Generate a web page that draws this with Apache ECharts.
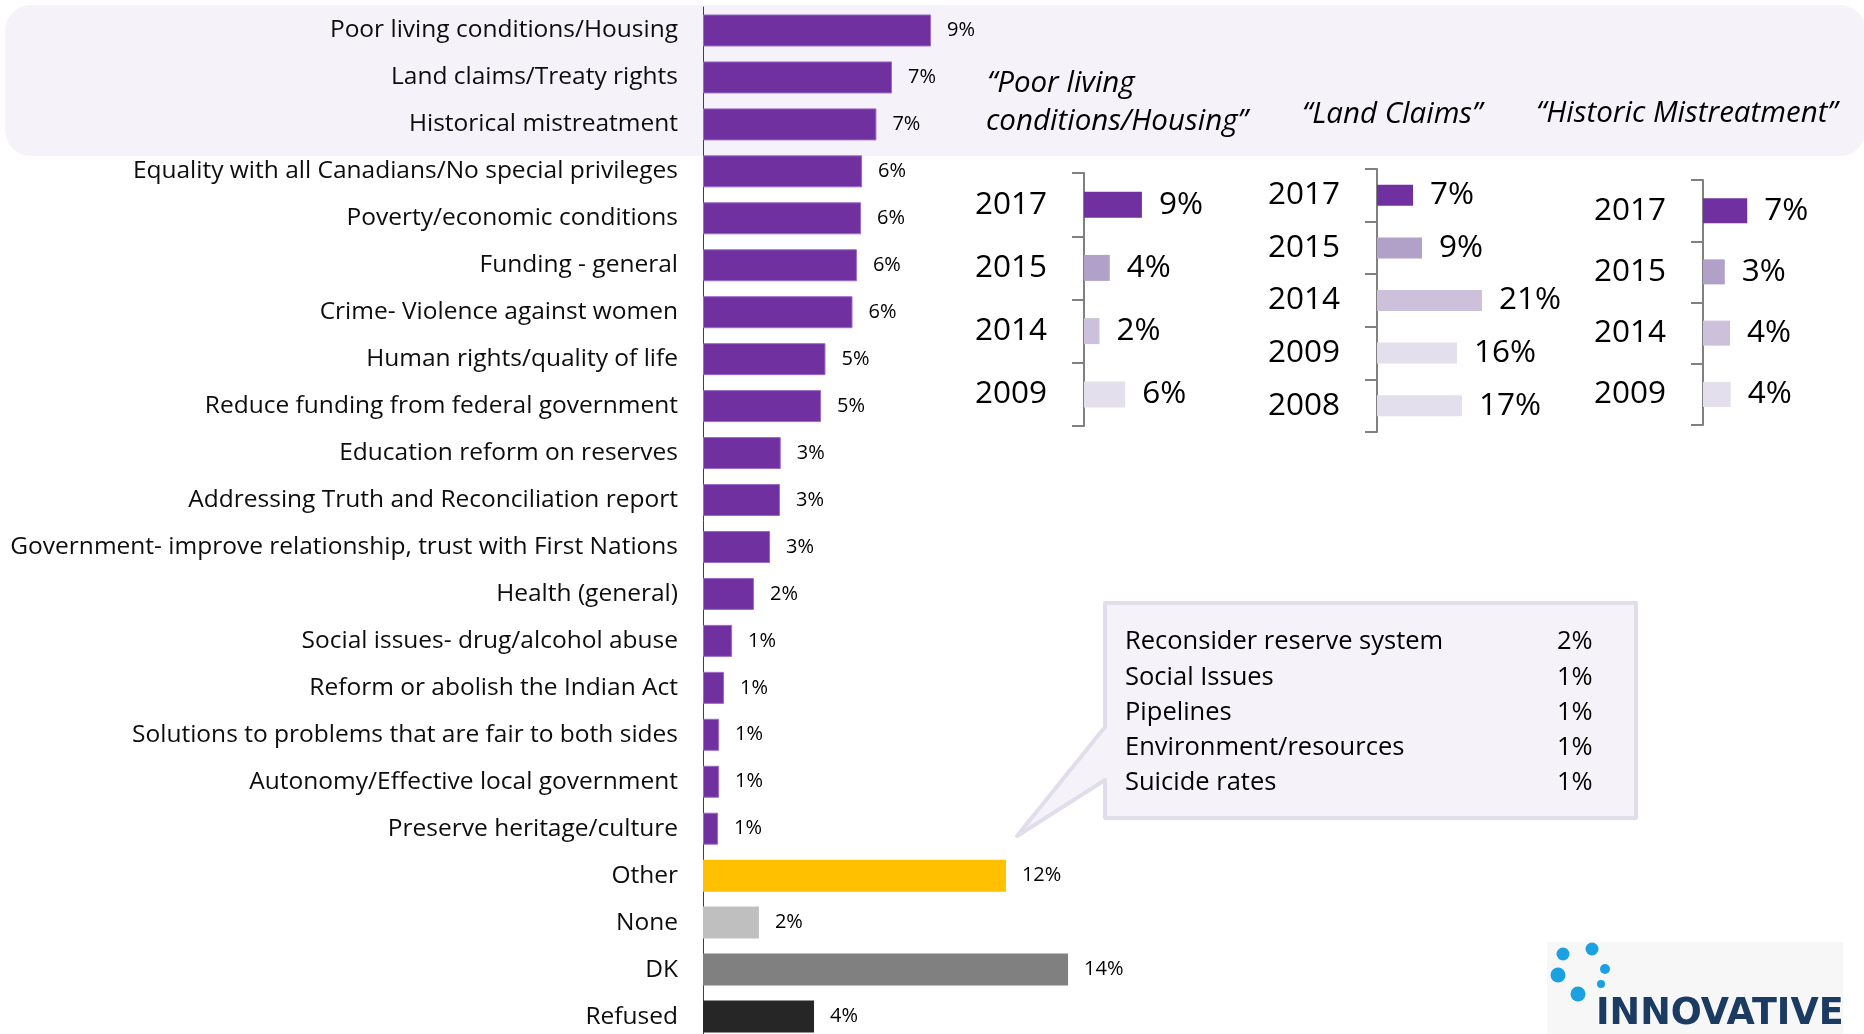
<!DOCTYPE html>
<html>
<head>
<meta charset="utf-8">
<title>Top issues</title>
<script src="https://cdn.jsdelivr.net/npm/echarts@6/dist/echarts.min.js"></script>
<style>
  html, body { margin: 0; padding: 0; background: #ffffff; }
  #chart { width: 1864px; height: 1034px; }
</style>
</head>
<body>
<div id="chart"></div>
<script>
  // main list of mentions
  var issueNames = [
    'Poor living conditions/Housing',
    'Land claims/Treaty rights',
    'Historical mistreatment',
    'Equality with all Canadians/No special privileges',
    'Poverty/economic conditions',
    'Funding - general',
    'Crime- Violence against women',
    'Human rights/quality of life',
    'Reduce funding from federal government',
    'Education reform on reserves',
    'Addressing Truth and Reconciliation report',
    'Government- improve relationship, trust with First Nations',
    'Health (general)',
    'Social issues- drug/alcohol abuse',
    'Reform or abolish the Indian Act',
    'Solutions to problems that are fair to both sides',
    'Autonomy/Effective local government',
    'Preserve heritage/culture',
    'Other',
    'None',
    'DK',
    'Refused'
  ];
  var issueValues = [8.77, 7.27, 6.67, 6.12, 6.08, 5.92, 5.75, 4.71, 4.54, 2.99, 2.96, 2.58,
    1.96, 1.12, 0.81, 0.62, 0.62, 0.58, 11.65, 2.15, 14.04, 4.27];

  // trend panels
  var housingYears = ['2017', '2015', '2014', '2009'];
  var housingValues = [9, 4, 2.4, 6.4];
  var landYears = ['2017', '2015', '2014', '2009', '2008'];
  var landValues = [7.2, 9, 21, 16, 17];
  var historicYears = ['2017', '2015', '2014', '2009'];
  var historicValues = [6.7, 3.3, 4.1, 4.2];

  // "other" breakdown in the callout
  var otherNames = ['Reconsider reserve system', 'Social Issues', 'Pipelines', 'Environment/resources', 'Suicide rates'];
  var otherValues = [2, 1, 1, 1, 1];

  var FONT = 'Open Sans';
  var PURPLE = '#7030A0';
  var specialColors = { 'Other': '#FFC000', 'None': '#BFBFBF', 'DK': '#808080', 'Refused': '#262626' };
  var yearColors = { '2017': '#7030A0', '2015': '#B1A0C7', '2014': '#CCC0DA', '2009': '#E4DFEC', '2008': '#E4DFEC' };

  function pct(p) { return Math.round(p.value) + '%'; }

  function trendData(years, values) {
    return values.map(function (v, i) {
      return { value: v, itemStyle: { color: yearColors[years[i]] } };
    });
  }

  function trendYAxis(idx, years) {
    return {
      type: 'category', gridIndex: idx, inverse: true, data: years,
      axisLine: { lineStyle: { color: '#808080', width: 2 } },
      axisTick: { show: true, length: 12, lineStyle: { color: '#808080', width: 2 } },
      axisLabel: { fontFamily: FONT, fontSize: 31.5, color: '#000', margin: 37 }
    };
  }

  function trendSeries(idx, years, values, bw) {
    return {
      type: 'bar', xAxisIndex: idx, yAxisIndex: idx, barWidth: bw,
      data: trendData(years, values),
      label: { show: true, position: 'right', distance: 17, formatter: pct,
        fontFamily: FONT, fontSize: 31.5, color: '#000' }
    };
  }

  var mainData = issueValues.map(function (v, i) {
    var c = specialColors[issueNames[i]];
    return {
      value: v,
      itemStyle: c ? { color: c } : { color: PURPLE, borderColor: '#9B6BC6', borderWidth: 1 }
    };
  });

  // callout with tail
  var calloutShape = [[1105, 603], [1636, 603], [1636, 818], [1105, 818], [1105, 780], [1017, 836], [1105, 727]];
  var calloutTexts = [];
  otherNames.forEach(function (name, i) {
    var y = 642 + i * 35.3;
    calloutTexts.push({ type: 'text', x: 1125, y: y, z: 5,
      style: { text: name, fontFamily: FONT, fontSize: 25.5, fill: '#000', textVerticalAlign: 'middle' } });
    calloutTexts.push({ type: 'text', x: 1557, y: y, z: 5,
      style: { text: otherValues[i] + '%', fontFamily: FONT, fontSize: 25.5, fill: '#000', textVerticalAlign: 'middle' } });
  });

  var titleStyle = { fontFamily: FONT, fontStyle: 'italic', fontSize: 29.5, fill: '#000', textVerticalAlign: 'middle' };
  function titleText(x, y, s) {
    return { type: 'text', x: x, y: y, z: 5, style: Object.assign({ text: s }, titleStyle) };
  }

  var chartDom = document.getElementById('chart');
  var myChart = echarts.init(chartDom);
  var option;

  option = {
    animation: false,
    backgroundColor: '#ffffff',
    grid: [
      { left: 703, top: 7, width: 1040, height: 1033, outerBoundsMode: 'none', containLabel: false },
      { left: 1084, top: 173, width: 193, height: 253, outerBoundsMode: 'none' },
      { left: 1377, top: 169, width: 200, height: 263, outerBoundsMode: 'none' },
      { left: 1703, top: 180, width: 132, height: 245, outerBoundsMode: 'none' }
    ],
    xAxis: [
      { type: 'value', gridIndex: 0, min: 0, max: 40, show: false },
      { type: 'value', gridIndex: 1, min: 0, max: 30, show: false },
      { type: 'value', gridIndex: 2, min: 0, max: 40, show: false },
      { type: 'value', gridIndex: 3, min: 0, max: 20, show: false }
    ],
    yAxis: [
      {
        type: 'category', gridIndex: 0, inverse: true, data: issueNames,
        axisLine: { lineStyle: { color: '#404040', width: 1 } },
        axisTick: { show: false },
        axisLabel: { fontFamily: FONT, fontSize: 24.5, color: '#0D0D0D', margin: 25, padding: [3, 0, 0, 0] }
      },
      trendYAxis(1, housingYears),
      trendYAxis(2, landYears),
      trendYAxis(3, historicYears)
    ],
    graphic: [
      { type: 'rect', z: -10, shape: { x: 5, y: 5, width: 1861, height: 151, r: 26 },
        style: { fill: '#F5F3F9' } },
      { type: 'polygon', z: -5, shape: { points: calloutShape },
        style: { fill: '#F5F3F9', stroke: '#E2DDEB', lineWidth: 4, lineJoin: 'round' } },
      titleText(987, 84, '\u201CPoor living'),
      titleText(986, 122, 'conditions/Housing\u201D'),
      titleText(1302, 115, '\u201CLand Claims\u201D'),
      titleText(1536, 114, '\u201CHistoric Mistreatment\u201D'),
      // logo
      { type: 'rect', z: -10, shape: { x: 1547, y: 942, width: 296, height: 92 }, style: { fill: '#F7F7F7' } },
      { type: 'circle', shape: { cx: 1563, cy: 954, r: 6.5 }, style: { fill: '#1BA1E2' } },
      { type: 'circle', shape: { cx: 1592, cy: 949, r: 6.5 }, style: { fill: '#1BA1E2' } },
      { type: 'circle', shape: { cx: 1558, cy: 975, r: 7.5 }, style: { fill: '#1BA1E2' } },
      { type: 'circle', shape: { cx: 1605, cy: 969, r: 5 }, style: { fill: '#1BA1E2' } },
      { type: 'circle', shape: { cx: 1601, cy: 984, r: 4 }, style: { fill: '#1BA1E2' } },
      { type: 'circle', shape: { cx: 1578, cy: 994, r: 7.5 }, style: { fill: '#1BA1E2' } },
      { type: 'text', x: 1596, y: 1015, z: 5,
        style: { text: 'INNOVATIVE', fontFamily: 'DejaVu Sans', fontWeight: 'bold', fontSize: 36.5,
          fill: '#1B3B63', textVerticalAlign: 'middle' } }
    ].concat(calloutTexts),
    series: [
      {
        type: 'bar', xAxisIndex: 0, yAxisIndex: 0, barWidth: 32,
        data: mainData,
        label: { show: true, position: 'right', distance: 16, formatter: pct,
          fontFamily: FONT, fontSize: 20, color: '#000' }
      },
      trendSeries(1, housingYears, housingValues, 26),
      trendSeries(2, landYears, landValues, 21),
      trendSeries(3, historicYears, historicValues, 25)
    ]
  };
  option && myChart.setOption(option);
</script>
</body>
</html>
